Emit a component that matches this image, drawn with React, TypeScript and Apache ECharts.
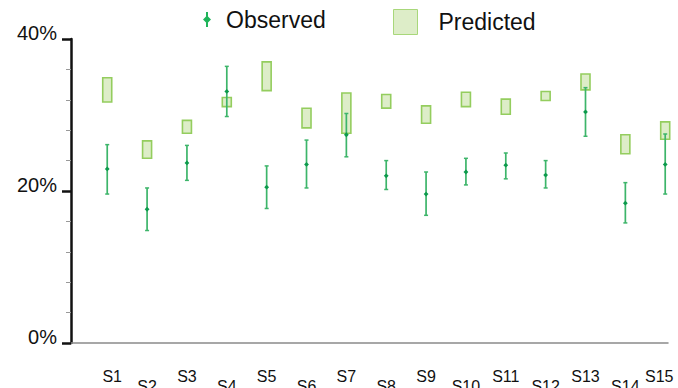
import React, { useEffect, useRef } from "react";
import * as echarts from "echarts";

const categories = ["S1", "S2", "S3", "S4", "S5", "S6", "S7", "S8", "S9", "S10", "S11", "S12", "S13", "S14", "S15"];
const observedMean = [22.9, 17.6, 23.7, 33.1, 20.5, 23.5, 27.4, 22.0, 19.6, 22.5, 23.4, 22.1, 30.4, 18.4, 23.5];
const observedLow = [19.6, 14.8, 21.4, 29.8, 17.7, 20.4, 24.5, 20.2, 16.8, 20.8, 21.6, 20.4, 27.2, 15.8, 19.6];
const observedHigh = [26.1, 20.4, 26.0, 36.4, 23.3, 26.7, 30.2, 24.0, 22.5, 24.3, 25.0, 24.0, 33.6, 21.1, 27.5];
const predictedLow = [31.6, 24.2, 27.5, 31.0, 33.1, 28.2, 27.5, 30.8, 28.8, 31.0, 30.0, 31.8, 33.2, 24.8, 26.7];
const predictedHigh = [35.0, 26.7, 29.4, 32.4, 37.1, 31.0, 33.0, 32.8, 31.3, 33.1, 32.2, 33.2, 35.5, 27.5, 29.2];
const yTicks = [0, 20, 40];

const FONT = "'Liberation Sans', Arial, sans-serif";
const OBS_LINE = "#3db56a";
const OBS_DOT = "#0c9a4c";
const BOX_FILL = "#ddedc8";
const BOX_STROKE = "#94cd5e";

export default function App() {
  const ref = useRef<HTMLDivElement>(null);

  useEffect(() => {
    if (!ref.current) return;
    const chart = echarts.init(ref.current, null, { renderer: "svg" });
    const idx = categories.map((_, i) => i);
    const boxData = idx.map((i) => [i, predictedLow[i], predictedHigh[i]]);
    const obsData = idx.map((i) => [i, observedLow[i], observedMean[i], observedHigh[i]]);
    const last = categories.length - 1;

    const option: any = {
      animation: false,
      backgroundColor: "#ffffff",
      textStyle: { fontFamily: FONT },
      grid: { left: 71, right: 10, top: 39, bottom: 45, outerBoundsMode: "none" },
      legend: [
        {
          left: 203,
          top: 8,
          padding: 0,
          selectedMode: false,
          itemWidth: 8,
          itemHeight: 15,
          textStyle: { fontFamily: FONT, fontSize: 23, color: "#111" },
          data: [
            {
              name: "Observed",
              icon: "path://M3,0 L5,0 L5,4.5 L8,7.5 L5,10.5 L5,15 L3,15 L3,10.5 L0,7.5 L3,4.5 Z",
              itemStyle: { color: "#1fb45a" },
              textStyle: { padding: [0, 0, 0, 10] },
            },
          ],
        },
        {
          left: 393,
          top: 9,
          padding: 0,
          selectedMode: false,
          itemWidth: 24,
          itemHeight: 25,
          textStyle: { fontFamily: FONT, fontSize: 23, color: "#111" },
          data: [
            {
              name: "Predicted",
              icon: "rect",
              itemStyle: { color: BOX_FILL, borderColor: "#a8d77a", borderWidth: 1 },
              textStyle: { padding: [0, 0, 0, 16] },
            },
          ],
        },
      ],
      xAxis: {
        type: "value",
        min: -0.909,
        max: 14.07,
        splitLine: { show: false },
        axisTick: { show: false },
        axisLine: { show: true, onZero: false, lineStyle: { color: "#8a8a8a", width: 1.5 } },
        axisLabel: {
          customValues: idx,
          fontFamily: FONT,
          fontSize: 16,
          color: "#111",
          margin: 28,
          lineHeight: 10,
          rich: {
            first: { fontFamily: FONT, fontSize: 16, color: "#111", lineHeight: 10, padding: [0, 0, 0, 10] },
            end: { fontFamily: FONT, fontSize: 16, color: "#111", lineHeight: 10, padding: [0, 12, 0, 0] },
          },
          formatter: (v: number) => {
            const i = Math.round(v);
            const name = categories[i] ?? "";
            if (i === 0) return "{first|" + name + "}";
            if (i === last) return "{end|" + name + "}";
            return i % 2 === 1 ? "\n" + name : name;
          },
        },
      },
      yAxis: {
        type: "value",
        min: yTicks[0],
        max: yTicks[yTicks.length - 1],
        interval: yTicks[1] - yTicks[0],
        splitLine: { show: false },
        axisLine: { show: true, onZero: false, lineStyle: { color: "#111", width: 2.5 } },
        axisTick: { show: true, length: 9, lineStyle: { color: "#111", width: 2.5 } },
        minorTick: { show: true, splitNumber: 5, length: 5, lineStyle: { color: "#999", width: 1 } },
        axisLabel: {
          fontFamily: FONT,
          fontSize: 20,
          color: "#111",
          margin: 14,
          verticalAlign: "bottom",
          lineHeight: 12,
          formatter: "{value}%",
        },
      },
      series: [
        {
          name: "Predicted",
          type: "custom",
          data: boxData,
          encode: { x: 0, y: [1, 2] },
          itemStyle: { color: BOX_FILL },
          renderItem: (params: any, api: any) => {
            const x = api.value(0);
            const lo = api.coord([x, api.value(1)]);
            const hi = api.coord([x, api.value(2)]);
            return {
              type: "rect",
              shape: { x: lo[0] - 4.5, y: hi[1] + 0.8, width: 9, height: lo[1] - hi[1] - 1.6 },
              style: { fill: BOX_FILL, stroke: BOX_STROKE, lineWidth: 1.6 },
            };
          },
        },
        {
          name: "Observed",
          type: "custom",
          data: obsData,
          encode: { x: 0, y: [1, 2, 3] },
          itemStyle: { color: OBS_LINE },
          renderItem: (params: any, api: any) => {
            const x = api.value(0);
            const lo = api.coord([x, api.value(1)]);
            const mid = api.coord([x, api.value(2)]);
            const hi = api.coord([x, api.value(3)]);
            const cx = lo[0];
            const r = 2.4;
            return {
              type: "group",
              children: [
                { type: "line", shape: { x1: cx, y1: hi[1], x2: cx, y2: lo[1] }, style: { stroke: OBS_LINE, lineWidth: 1.7 } },
                { type: "line", shape: { x1: cx - 2, y1: hi[1], x2: cx + 2, y2: hi[1] }, style: { stroke: OBS_LINE, lineWidth: 1.5 } },
                { type: "line", shape: { x1: cx - 2, y1: lo[1], x2: cx + 2, y2: lo[1] }, style: { stroke: OBS_LINE, lineWidth: 1.5 } },
                {
                  type: "polygon",
                  shape: { points: [[cx, mid[1] - r], [cx + r, mid[1]], [cx, mid[1] + r], [cx - r, mid[1]]] },
                  style: { fill: OBS_DOT },
                },
              ],
            };
          },
        },
      ],
    };
    chart.setOption(option);
    return () => chart.dispose();
  }, []);

  return (
    <div
      ref={ref}
      style={{ position: "fixed", left: 0, top: 0, width: 678, height: 388, background: "#fff" }}
    />
  );
}
